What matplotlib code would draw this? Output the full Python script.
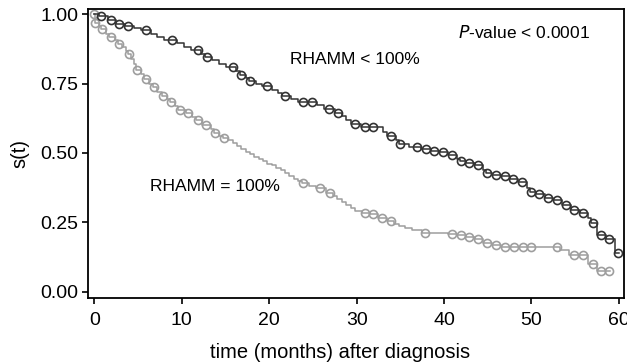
import numpy as np
import matplotlib
matplotlib.use("Agg")
from matplotlib import pyplot as plt

# RHAMM < 100% : step times and survival after each step
hi_t = [0, 0.5, 1.5, 2.5, 3.5, 4.5, 5.3, 6.5, 7.2, 8.0, 9.5, 10.2, 11.0, 12.2, 12.6,
        13.5, 14.2, 15.0, 16.2, 16.6, 17.3, 17.7, 18.5, 19.2, 20.3, 21.0, 21.5, 22.5,
        23.3, 25.5, 26.3, 27.5, 28.3, 28.8, 29.3, 30.5, 33.0, 33.5, 34.5, 34.8, 36.0,
        37.4, 38.5, 39.5, 40.5, 41.5, 41.8, 42.5, 43.5, 44.5, 44.8, 45.5, 46.5, 47.5,
        48.5, 49.5, 49.8, 50.5, 51.5, 52.5, 53.5, 54.5, 55.5, 56.5, 56.8, 57.5, 58.5,
        59.5]
hi_s = [1.00, 0.993, 0.978, 0.965, 0.958, 0.950, 0.943, 0.930, 0.918, 0.905, 0.895,
        0.882, 0.872, 0.858, 0.846, 0.835, 0.822, 0.810, 0.795, 0.782, 0.770, 0.760,
        0.750, 0.740, 0.728, 0.716, 0.705, 0.695, 0.685, 0.672, 0.660, 0.645, 0.632,
        0.620, 0.605, 0.592, 0.575, 0.560, 0.545, 0.532, 0.520, 0.513, 0.506, 0.502,
        0.493, 0.480, 0.472, 0.463, 0.455, 0.440, 0.429, 0.421, 0.417, 0.405, 0.395,
        0.375, 0.361, 0.353, 0.339, 0.331, 0.313, 0.295, 0.285, 0.265, 0.247, 0.204,
        0.190, 0.141]
hi_end = 60.0
hi_cens = [0.8, 1.9, 2.85, 3.85, 5.9, 8.85, 11.85, 12.9, 15.8, 16.8, 17.85, 19.8,
           21.8, 23.85, 24.9, 26.8, 27.9, 29.85, 30.9, 31.9, 33.9, 34.95, 36.95, 37.9,
           38.9, 39.9, 40.9, 41.9, 42.9, 43.9, 44.95, 45.95, 47.0, 47.9, 48.9, 49.95,
           50.9, 51.9, 52.9, 53.9, 54.9, 55.9, 57.0, 57.9, 58.9, 59.9]

# RHAMM = 100%
lo_t = [0, 0.05, 0.5, 0.8, 1.3, 1.7, 2.3, 2.7, 3.2, 3.6, 3.8, 4.2, 4.5, 4.8, 5.3, 5.7,
        6.3, 6.7, 7.2, 7.7, 8.3, 8.7, 9.2, 9.6, 10.5, 11.2, 11.6, 12.3, 13.3, 13.7,
        14.3, 14.7, 15.3, 15.8, 16.3, 16.8, 17.3, 17.8, 18.3, 18.8, 19.3, 19.8, 20.3,
        20.8, 21.3, 21.8, 22.3, 22.8, 23.3, 23.7, 24.5, 25.3, 26.5, 27.3, 27.8, 28.3,
        28.8, 29.3, 29.8, 30.6, 31.5, 32.5, 33.5, 34.3, 34.8, 35.5, 36.3, 37.5, 40.5,
        41.5, 42.5, 43.5, 44.5, 45.5, 46.5, 53.3, 54.3, 56.5, 57.5]
lo_s = [1.00, 0.968, 0.958, 0.945, 0.930, 0.918, 0.905, 0.894, 0.880, 0.868, 0.856,
        0.840, 0.820, 0.800, 0.785, 0.765, 0.750, 0.736, 0.720, 0.705, 0.694, 0.684,
        0.670, 0.655, 0.645, 0.630, 0.617, 0.600, 0.585, 0.572, 0.562, 0.555, 0.545,
        0.535, 0.525, 0.515, 0.505, 0.495, 0.485, 0.478, 0.470, 0.462, 0.455, 0.445,
        0.438, 0.428, 0.418, 0.408, 0.400, 0.391, 0.382, 0.373, 0.357, 0.345, 0.335,
        0.322, 0.312, 0.302, 0.293, 0.285, 0.279, 0.265, 0.255, 0.245, 0.238, 0.230,
        0.222, 0.213, 0.209, 0.204, 0.199, 0.190, 0.175, 0.169, 0.163, 0.150, 0.133,
        0.100, 0.077]
lo_end = 59.0
lo_cens = [0.0, 0.06, 0.85, 1.86, 2.85, 3.9, 4.85, 5.85, 6.8, 7.8, 8.75, 9.8, 10.75,
           11.8, 12.8, 13.8, 14.8, 23.85, 25.85, 26.9, 30.9, 31.9, 32.9, 33.9, 37.85,
           40.9, 41.9, 42.9, 43.9, 44.9, 45.95, 47.0, 48.0, 49.0, 50.0, 52.9, 54.9,
           55.9, 57.0, 57.9, 58.9]

plt.rcParams['font.family'] = ['Liberation Sans', 'DejaVu Sans']

fig = plt.figure(figsize=(6.27, 3.63), dpi=100)
ax = fig.add_axes([0.1404, 0.179, 0.855, 0.796])


def km(ax, t, s, t_end, cens, color):
    tt = list(t) + [t_end]
    ss = list(s) + [s[-1]]
    ax.step(tt, ss, where='post', color=color, lw=1.1)
    idx = np.searchsorted(t, cens, side='right') - 1
    cs = np.array(s)[idx]
    ax.plot(cens, cs, ls='none', marker='o', ms=5.8, mfc='none',
            mec=color, mew=1.2)


km(ax, lo_t, lo_s, lo_end, lo_cens, '0.62')
km(ax, hi_t, hi_s, hi_end, hi_cens, '0.2')

ax.set_xlim(-0.73, 60.6)
ax.set_ylim(-0.022, 1.018)
ax.set_xticks([0, 10, 20, 30, 40, 50, 60])
ax.set_yticks([0, 0.25, 0.5, 0.75, 1.0])
ax.set_yticklabels(['0.00', '0.25', '0.50', '0.75', '1.00'])
ax.tick_params(labelsize=14, length=4, width=1.2, direction='out')
ax.tick_params(axis='x', pad=6)
ax.tick_params(axis='y', pad=3)
for sp in ax.spines.values():
    sp.set_linewidth(1.3)

ax.set_xlabel('time (months) after diagnosis', fontsize=14.5)
ax.xaxis.set_label_coords(0.47, -0.155)
ax.set_ylabel('s(t)', fontsize=14.5, labelpad=8)

ax.text(22.4, 0.835, 'RHAMM < 100%', fontsize=12.5, va='center')
ax.text(6.4, 0.381, 'RHAMM = 100%', fontsize=12.5, va='center')
ax.text(41.6, 0.932, '$\\it{P}$-value < 0.0001', fontsize=12.5, va='center')

fig.savefig('out.png', dpi=100)
